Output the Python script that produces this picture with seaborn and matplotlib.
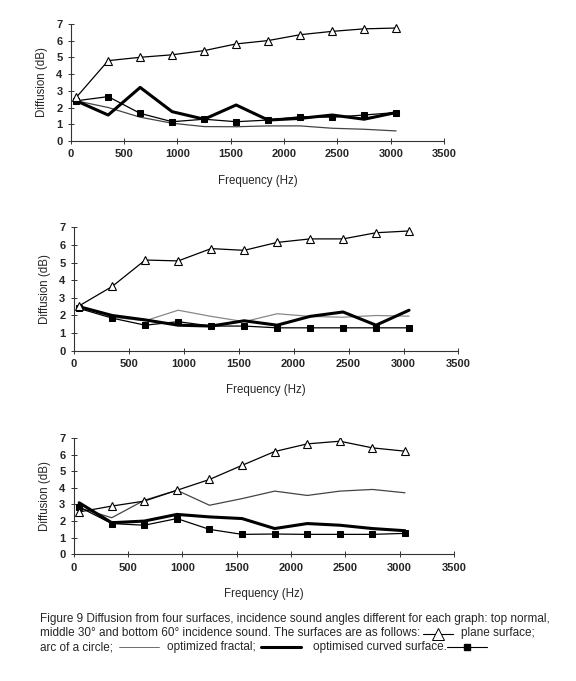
import matplotlib
matplotlib.use("Agg")
import matplotlib.pyplot as plt
from matplotlib.lines import Line2D
from matplotlib.transforms import IdentityTransform
import seaborn as sns

# frequency bands (Hz), same for all three graphs
freq = [50, 350, 650, 950, 1250, 1550, 1850, 2150, 2450, 2750, 3050]

# top graph: normal incidence
plane_0 = [2.6, 4.8, 5.0, 5.15, 5.4, 5.8, 6.0, 6.35, 6.55, 6.7, 6.75]
arc_0 = [2.4, 2.0, 1.42, 1.06, 0.86, 0.85, 0.9, 0.9, 0.76, 0.7, 0.6]
fractal_0 = [2.4, 1.55, 3.2, 1.75, 1.3, 2.15, 1.25, 1.35, 1.55, 1.3, 1.7]
curved_0 = [2.4, 2.65, 1.65, 1.15, 1.3, 1.15, 1.25, 1.45, 1.42, 1.55, 1.7]

# middle graph: 30 degree incidence
plane_30 = [2.55, 3.65, 5.15, 5.1, 5.8, 5.7, 6.15, 6.35, 6.35, 6.7, 6.8]
arc_30 = [2.5, 1.9, 1.7, 2.3, 1.95, 1.65, 2.1, 1.95, 1.9, 2.0, 1.96]
fractal_30 = [2.5, 2.0, 1.75, 1.45, 1.4, 1.7, 1.45, 1.95, 2.2, 1.45, 2.3]
curved_30 = [2.4, 1.85, 1.45, 1.65, 1.4, 1.4, 1.3, 1.3, 1.3, 1.3, 1.3]

# bottom graph: 60 degree incidence
plane_60 = [2.55, 2.9, 3.2, 3.85, 4.5, 5.35, 6.18, 6.64, 6.8, 6.4, 6.2]
arc_60 = [2.8, 2.2, 3.25, 3.85, 2.95, 3.35, 3.8, 3.54, 3.8, 3.9, 3.7]
fractal_60 = [3.1, 1.9, 2.0, 2.4, 2.25, 2.15, 1.55, 1.85, 1.75, 1.55, 1.42]
curved_60 = [2.85, 1.85, 1.75, 2.15, 1.5, 1.2, 1.22, 1.2, 1.2, 1.2, 1.26]

panels = [
    ([0.123, 0.793, 0.648, 0.172], '#444444', plane_0, arc_0, fractal_0, curved_0),
    ([0.128, 0.485, 0.668, 0.181], '#888888', plane_30, arc_30, fractal_30, curved_30),
    ([0.128, 0.186, 0.660, 0.171], '#444444', plane_60, arc_60, fractal_60, curved_60),
]

sns.set_theme(style="white")
plt.rcParams['font.family'] = ['Liberation Sans', 'DejaVu Sans']
FS = 8

fig = plt.figure(figsize=(5.76, 6.81), dpi=100)

for rect, arc_col, plane, arc, fractal, curved in panels:
    ax = fig.add_axes(rect)
    sns.lineplot(x=freq, y=arc, color=arc_col, linewidth=0.9, ax=ax)
    sns.lineplot(x=freq, y=fractal, color='black', linewidth=2.2, ax=ax)
    sns.lineplot(x=freq, y=curved, color='black', linewidth=0.9, marker='s',
                 markersize=5, markeredgecolor='black', markerfacecolor='black', ax=ax)
    sns.lineplot(x=freq, y=plane, color='black', linewidth=0.9, marker='^',
                 markersize=5.5, markerfacecolor='white', markeredgecolor='black',
                 markeredgewidth=0.8, ax=ax)
    ax.set_xlim(0, 3500)
    ax.set_ylim(0, 7)
    ax.set_xticks(range(0, 3501, 500))
    ax.set_yticks(range(0, 8))
    for side in ['top', 'right']:
        ax.spines[side].set_visible(False)
    for side in ['left', 'bottom']:
        ax.spines[side].set_color('#333333')
        ax.spines[side].set_linewidth(0.8)
    ax.tick_params(direction='inout', length=4, width=0.7, color='#333333',
                   labelsize=FS, pad=4, left=True, bottom=True)
    plt.setp(ax.get_xticklabels() + ax.get_yticklabels(), fontweight='bold')
    ax.set_xlabel("Frequency (Hz)", fontsize=8.3, labelpad=11)
    ax.set_ylabel("Diffusion (dB)", fontsize=8.3, labelpad=6)
    ax.set_facecolor('none')

# caption with inline legend keys, laid out in pixels
fig.canvas.draw()
rend = fig.canvas.get_renderer()
ident = IdentityTransform()
CFS = 8.5


def put(x, y, s):
    t = fig.text(x, y, s, fontsize=CFS, transform=ident, va='baseline', ha='left')
    return t.get_window_extent(rend).x1


def key(x, y, w, color='black', **kw):
    fig.add_artist(Line2D([x, x + w / 2, x + w], [y + 3, y + 3, y + 3],
                          transform=ident, color=color, markevery=[1], **kw))
    return x + w


x0 = 40
put(x0, 59, "Figure 9 Diffusion from four surfaces, incidence sound angles different "
            "for each graph: top normal,")
x = put(x0, 45, "middle 30\u00b0 and bottom 60\u00b0 incidence sound. The surfaces are as follows:")
x = key(x + 3, 44, 30, linewidth=0.8, marker='^', markersize=8,
        markerfacecolor='white', markeredgewidth=0.7)
put(x + 8, 45, "plane surface;")
x = put(x0, 31, "arc of a circle;")
x = key(x + 6, 31, 40, linewidth=0.6, color='#555555')
x = put(x + 8, 31, "optimized fractal;")
x = key(x + 5, 31, 40, linewidth=2.2)
x = put(x + 12, 31, "optimised curved surface.")
key(x, 31, 40, linewidth=0.8, marker='s', markersize=5)

fig.savefig("out.png", dpi=100, facecolor='white')
